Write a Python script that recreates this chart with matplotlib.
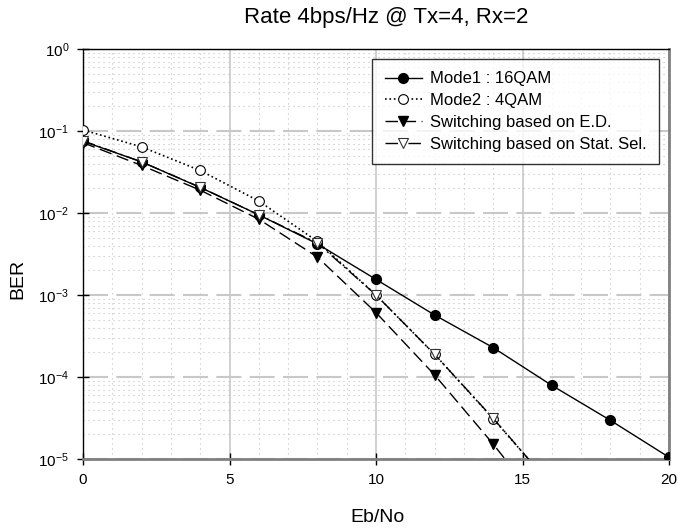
import matplotlib
matplotlib.use('Agg')
import matplotlib.pyplot as plt
from matplotlib.ticker import LogLocator, MultipleLocator, NullFormatter

plt.rcParams['font.family'] = ['Liberation Sans', 'DejaVu Sans']
plt.rcParams['mathtext.fontset'] = 'custom'
plt.rcParams['mathtext.rm'] = 'Liberation Sans'

# Eb/No (dB)
snr_mode1 = [0, 2, 4, 6, 8, 10, 12, 14, 16, 18, 20]
ber_mode1 = [0.075, 0.042, 0.0205, 0.0095, 0.0042, 1.55e-3, 5.7e-4, 2.28e-4, 7.9e-5, 2.96e-5, 1.05e-5]

snr_mode2 = [0, 2, 4, 6, 8, 10, 12, 14, 16]
ber_mode2 = [0.103, 0.064, 0.033, 0.014, 0.0045, 1.0e-3, 1.89e-4, 3.1e-5, 4.7e-6]

snr_sw = [0, 2, 4, 6, 8, 10, 12, 14, 16]
ber_ed = [0.072, 0.038, 0.019, 0.0084, 0.0029, 6.1e-4, 1.06e-4, 1.52e-5, 1.9e-6]
ber_stat = [0.076, 0.042, 0.0206, 0.0095, 0.0043, 1.0e-3, 1.89e-4, 3.13e-5, 4.7e-6]

W, H = 678, 529
fig = plt.figure(figsize=(W / 100, H / 100), dpi=100)
ax = fig.add_axes([83 / W, 1 - 459 / H, 586 / W, 410 / H])

ms = 7
ax.plot(snr_mode1, ber_mode1, '-', color='black', lw=1.0, marker='o', ms=ms,
        mfc='black', mec='black', label='Mode1 : 16QAM', zorder=3)
ax.plot(snr_mode2, ber_mode2, ':', color='black', lw=1.2, marker='o', ms=ms,
        mfc='white', mec='black', mew=0.8, label='Mode2 : 4QAM', zorder=4)
ax.plot(snr_sw, ber_ed, color='black', lw=1.0, ls=(0, (9, 4)), marker='v', ms=ms,
        mfc='black', mec='black', label='Switching based on E.D.', zorder=5)
ax.plot(snr_sw, ber_stat, color='black', lw=1.0, ls=(0, (9, 3, 1.5, 3)), marker='v', ms=ms,
        mfc='white', mec='#333333', mew=0.8, label='Switching based on Stat. Sel.', zorder=6)

ax.set_yscale('log')
ax.set_xlim(0, 20)
ax.set_ylim(1e-5, 1)
ax.xaxis.set_major_locator(MultipleLocator(5))
ax.xaxis.set_minor_locator(MultipleLocator(1))
ax.yaxis.set_major_locator(LogLocator(base=10, numticks=10))
ax.yaxis.set_minor_locator(LogLocator(base=10, subs=range(2, 10), numticks=20))
ax.yaxis.set_minor_formatter(NullFormatter())

ax.grid(True, which='minor', axis='both', color='#c0c0c0', ls=(0, (1, 3.5)), lw=0.8)
ax.grid(True, which='major', axis='x', color='#c8c8c8', ls='-', lw=1.2)
ax.grid(True, which='major', axis='y', color='#c8c8c8', ls=(0, (12, 4)), lw=1.5)
ax.set_axisbelow(True)

ax.tick_params(which='major', direction='inout', length=8, width=1, labelsize=11, pad=6)
ax.tick_params(which='minor', length=0)

for side in ['left', 'top']:
    ax.spines[side].set_color('black')
    ax.spines[side].set_linewidth(1.0)
for side in ['right', 'bottom']:
    ax.spines[side].set_color('#808080')
    ax.spines[side].set_linewidth(2.0)

fig.text(377 / W, 1 - 517 / H, 'Eb/No', fontsize=14, ha='center', va='center')
fig.text(17.5 / W, 1 - 279 / H, 'BER', fontsize=14, ha='center', va='center', rotation=90)
fig.text(386 / W, 1 - 18 / H, 'Rate 4bps/Hz @ Tx=4, Rx=2', fontsize=16, ha='center', va='center')

leg = ax.legend(loc='upper right', fontsize=12, frameon=True, fancybox=False,
                edgecolor='black', borderaxespad=0.6, handlelength=2.2,
                handletextpad=0.5, labelspacing=0.4, borderpad=0.75)
leg.get_frame().set_linewidth(1.0)

fig.savefig('out.png', dpi=100)
